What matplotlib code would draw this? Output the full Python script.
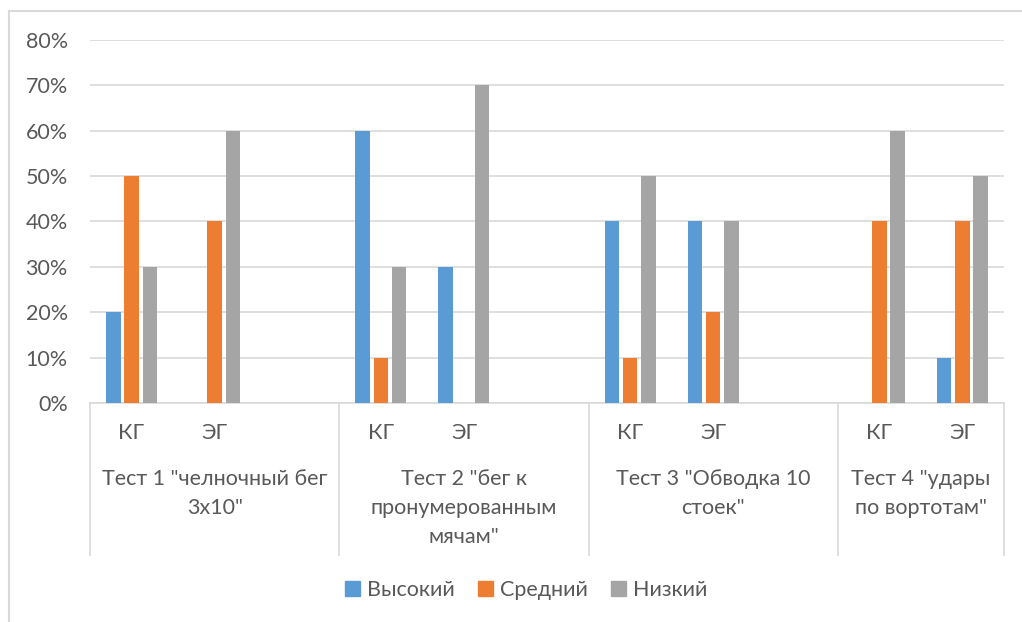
import matplotlib.pyplot as plt
import matplotlib.transforms as mtransforms
from matplotlib.lines import Line2D
from matplotlib.patches import Patch
import numpy as np

plt.rcParams['font.family'] = ['Lato', 'DejaVu Sans']

# data (percent)
tests = ['Тест 1 "челночный бег\n3х10"',
         'Тест 2 "бег к\nпронумерованным\nмячам"',
         'Тест 3 "Обводка 10\nстоек"',
         'Тест 4 "удары\nпо вортотам"']
groups = ['КГ', 'ЭГ']
# slots per test on the category axis (Excel left an empty third slot in tests 1-3)
slots = [3, 3, 3, 2]
series = ['Высокий', 'Средний', 'Низкий']
vysokiy = [20, 0, 60, 30, 40, 40, 0, 10]
sredniy = [50, 40, 10, 0, 10, 20, 40, 40]
nizkiy = [30, 60, 30, 70, 50, 40, 60, 50]
colors = ['#5B9BD5', '#ED7D31', '#A5A5A5']
txt = '#595959'
grid = '#D9D9D9'

fig = plt.figure(figsize=(10.22, 6.22), dpi=100)
ax = fig.add_axes([90/1022, 1-403/622, (1004-90)/1022, 363/622])

starts = np.cumsum([0] + slots[:-1])
xpos = np.array([s + j for s in starts for j in range(len(groups))])

w = 0.175
step = 0.22
for k, vals in enumerate([vysokiy, sredniy, nizkiy]):
    ax.bar(xpos + (k - 1) * step, vals, width=w, color=colors[k], zorder=3)

nslots = sum(slots)
ax.set_xlim(-0.5, nslots - 0.5)
ax.set_ylim(0, 80)
ax.set_yticks(range(0, 81, 10))
ax.set_yticklabels([f'{v}%' for v in range(0, 81, 10)])
ax.tick_params(axis='y', length=0, pad=16, labelsize=15.5, labelcolor=txt)
ax.set_xticks([])
ax.grid(axis='y', color=grid, lw=1.2, zorder=0)
for s in ['left', 'right', 'top']:
    ax.spines[s].set_visible(False)
ax.spines['bottom'].set_color(grid)
ax.spines['bottom'].set_linewidth(1.2)

# multi-level category labels
tr = mtransforms.blended_transform_factory(ax.transData, ax.transAxes)
ybot = -(555 - 403) / 363
bounds = list(starts) + [nslots]
for b in bounds:
    ax.add_line(Line2D([b - 0.5, b - 0.5], [0, ybot], transform=tr,
                       color=grid, lw=1.2, clip_on=False))
for i, s in enumerate(starts):
    for j, g in enumerate(groups):
        ax.text(s + j, -(433 - 403) / 363, g, transform=tr, ha='center',
                va='center', fontsize=15.5, color=txt)
for i, t in enumerate(tests):
    cx = (bounds[i] + bounds[i + 1] - 1) / 2
    ax.text(cx, -(469 - 403) / 363, t, transform=tr, ha='center', va='top',
            fontsize=15.5, color=txt, linespacing=1.55)

handles = [Patch(color=c) for c in colors]
fig.legend(handles, series, loc='center', bbox_to_anchor=(526/1022, 1-590/622),
           ncol=3, frameon=False, fontsize=15.5, handlelength=0.7, handleheight=0.7,
           handletextpad=0.3, columnspacing=1.1, labelcolor=txt)

# outer chart border (only left and top visible)
fig.add_artist(Line2D([9/1022, 9/1022], [0, 1-11/622], color='#D9D9D9', lw=1.5))
fig.add_artist(Line2D([9/1022, 1], [1-11/622, 1-11/622], color='#D9D9D9', lw=1.5))

fig.savefig('out.png', dpi=100)
